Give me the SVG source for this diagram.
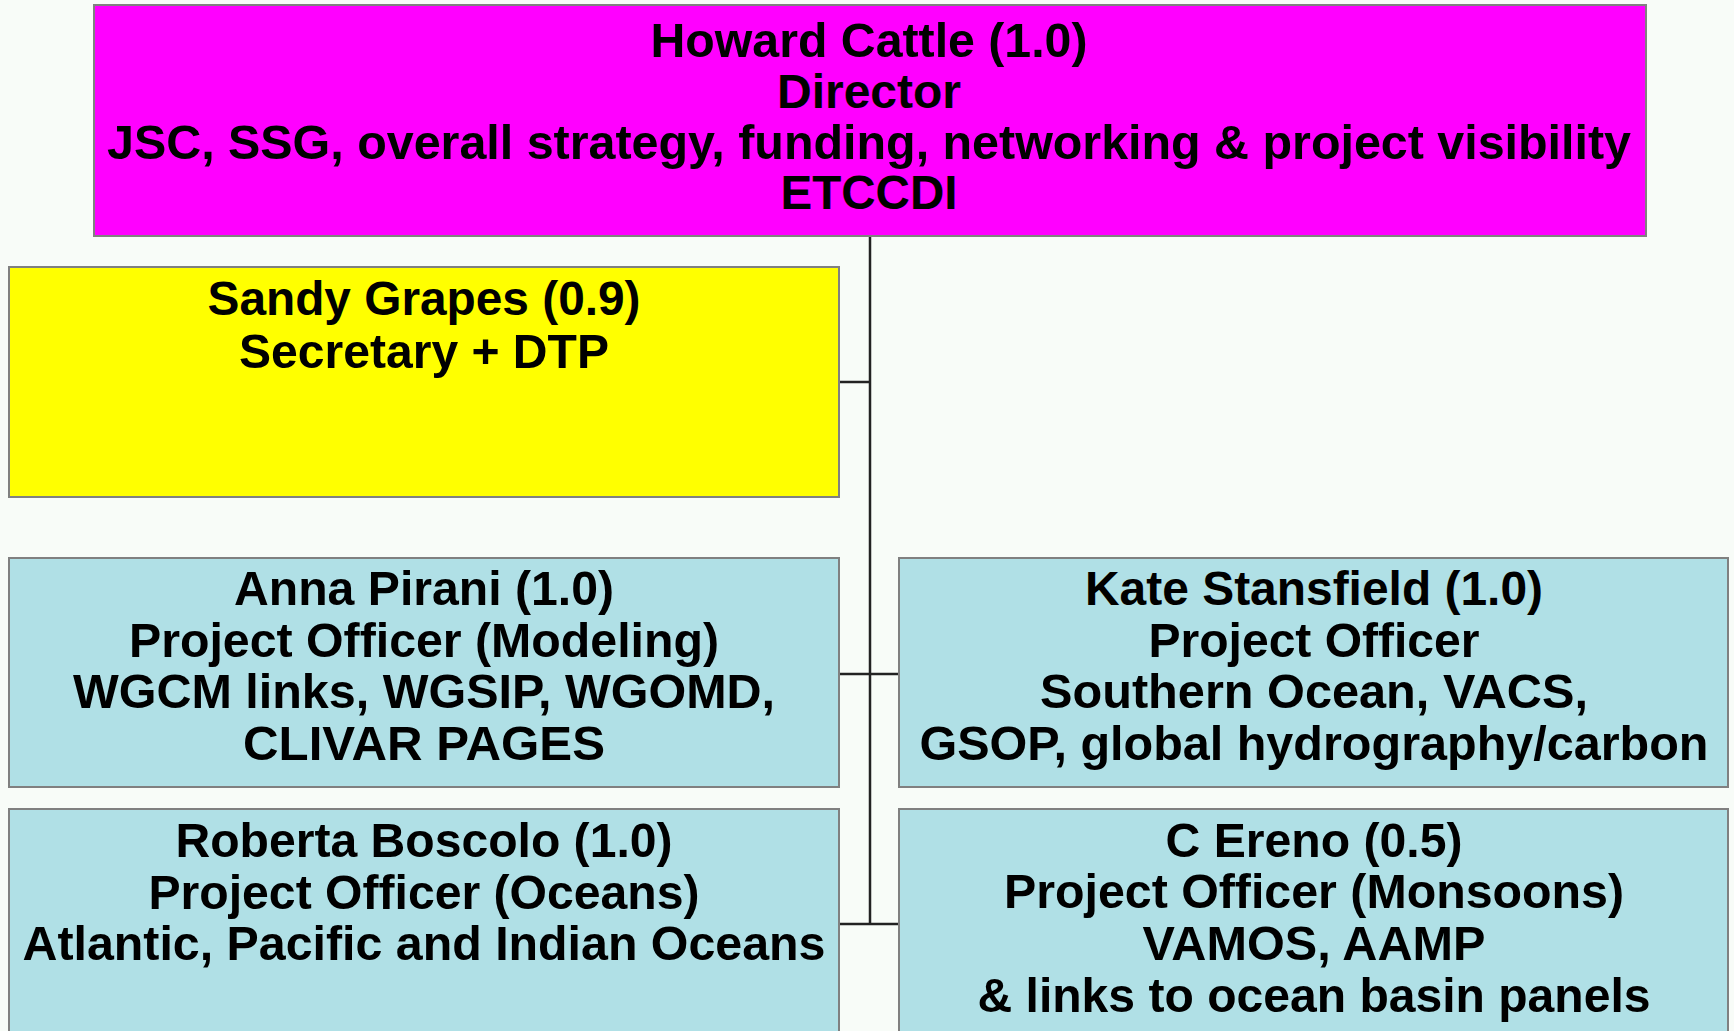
<svg xmlns="http://www.w3.org/2000/svg" width="1734" height="1031" viewBox="0 0 1734 1031">
<style>
.box{stroke:#808080;stroke-width:2}
.mag{fill:#FF00FF}
.yel{fill:#FFFF00}
.blu{fill:#B0E0E6}
text{font-family:"Liberation Sans",Arial,Helvetica,sans-serif;font-weight:bold;font-size:48px;fill:#000;text-anchor:middle}
.conn{stroke:#222;stroke-width:2.5;fill:none}
</style>
<rect width="1734" height="1031" fill="#F8FCF8"/>
<g id="connectors">
<line class="conn" x1="870" y1="236" x2="870" y2="925"/>
<line class="conn" x1="839" y1="382" x2="870" y2="382"/>
<line class="conn" x1="839" y1="674" x2="899" y2="674"/>
<line class="conn" x1="839" y1="924" x2="899" y2="924"/>
</g>
<g id="director">
<rect class="box mag" x="94" y="5" width="1552" height="231"/>
<text x="869" y="57" textLength="437" lengthAdjust="spacingAndGlyphs">Howard Cattle (1.0)</text>
<text x="869" y="108" textLength="184" lengthAdjust="spacingAndGlyphs">Director</text>
<text x="869" y="159" textLength="1524" lengthAdjust="spacingAndGlyphs">JSC, SSG, overall strategy, funding, networking &amp; project visibility</text>
<text x="869" y="209" textLength="177" lengthAdjust="spacingAndGlyphs">ETCCDI</text>
</g>
<g id="secretary">
<rect class="box yel" x="9" y="267" width="830" height="230"/>
<text x="424" y="315" textLength="433" lengthAdjust="spacingAndGlyphs">Sandy Grapes (0.9)</text>
<text x="424" y="368" textLength="370" lengthAdjust="spacingAndGlyphs">Secretary + DTP</text>
</g>
<g id="anna">
<rect class="box blu" x="9" y="558" width="830" height="229"/>
<text x="424" y="605" textLength="380" lengthAdjust="spacingAndGlyphs">Anna Pirani (1.0)</text>
<text x="424" y="657" textLength="590" lengthAdjust="spacingAndGlyphs">Project Officer (Modeling)</text>
<text x="424" y="708" textLength="702" lengthAdjust="spacingAndGlyphs">WGCM links, WGSIP, WGOMD,</text>
<text x="424" y="760" textLength="362" lengthAdjust="spacingAndGlyphs">CLIVAR PAGES</text>
</g>
<g id="kate">
<rect class="box blu" x="899" y="558" width="829" height="229"/>
<text x="1314" y="605" textLength="458" lengthAdjust="spacingAndGlyphs">Kate Stansfield (1.0)</text>
<text x="1314" y="657" textLength="331" lengthAdjust="spacingAndGlyphs">Project Officer</text>
<text x="1314" y="708" textLength="548" lengthAdjust="spacingAndGlyphs">Southern Ocean, VACS,</text>
<text x="1314" y="760" textLength="789" lengthAdjust="spacingAndGlyphs">GSOP, global hydrography/carbon</text>
</g>
<g id="roberta">
<rect class="box blu" x="9" y="809" width="830" height="240"/>
<text x="424" y="857" textLength="497" lengthAdjust="spacingAndGlyphs">Roberta Boscolo (1.0)</text>
<text x="424" y="909" textLength="551" lengthAdjust="spacingAndGlyphs">Project Officer (Oceans)</text>
<text x="424" y="960" textLength="803" lengthAdjust="spacingAndGlyphs">Atlantic, Pacific and Indian Oceans</text>
</g>
<g id="ereno">
<rect class="box blu" x="899" y="809" width="829" height="240"/>
<text x="1314" y="857" textLength="297" lengthAdjust="spacingAndGlyphs">C Ereno (0.5)</text>
<text x="1314" y="908" textLength="620" lengthAdjust="spacingAndGlyphs">Project Officer (Monsoons)</text>
<text x="1314" y="960" textLength="343" lengthAdjust="spacingAndGlyphs">VAMOS, AAMP</text>
<text x="1314" y="1012" textLength="673" lengthAdjust="spacingAndGlyphs">&amp; links to ocean basin panels</text>
</g>
</svg>
